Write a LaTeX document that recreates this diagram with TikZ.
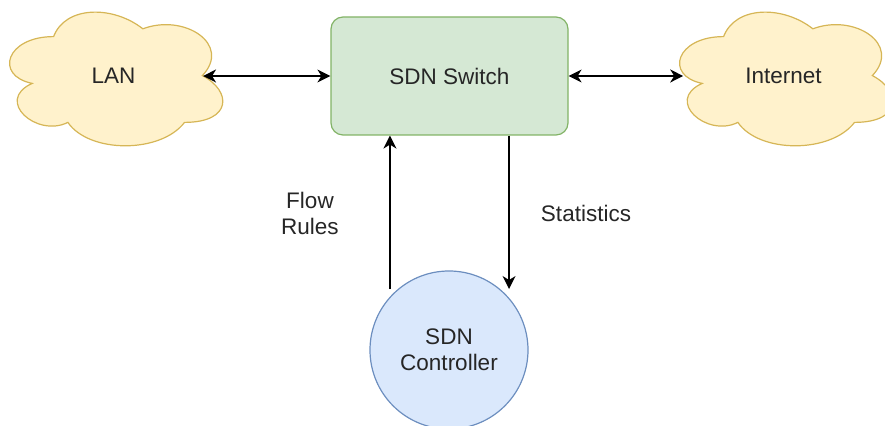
\documentclass[tikz,border=0pt]{standalone}
\usepackage{fontspec}
\setmainfont{Liberation Sans}
\usetikzlibrary{arrows.meta,calc,positioning,backgrounds}

\definecolor{cloudfill}{HTML}{FFF2CC}
\definecolor{cloudline}{HTML}{D6B656}
\definecolor{switchfill}{HTML}{D5E8D4}
\definecolor{switchline}{HTML}{82B366}
\definecolor{ctrlfill}{HTML}{DAE8FC}
\definecolor{ctrlline}{HTML}{6C8EBF}

% cloud outline filling the box of a named node
\newcommand{\cloudbehind}[1]{%
  \filldraw[draw=cloudline,fill=cloudfill,line width=0.6pt,
      shift={(#1.north west)},x=119pt,y=-78pt]
    (.25,.25) .. controls (.05,.25) and (0,.5) .. (.16,.55)
    .. controls (0,.66) and (.18,.9) .. (.31,.8)
    .. controls (.4,1) and (.7,1) .. (.8,.8)
    .. controls (1,.8) and (1,.6) .. (.875,.5)
    .. controls (1,.3) and (.8,.1) .. (.625,.2)
    .. controls (.5,.05) and (.3,.05) .. (.25,.25) -- cycle;}

\begin{document}
\begin{tikzpicture}[x=0.5pt,y=-0.5pt,
            >={Stealth[length=6.5pt,width=6.5pt,inset=2pt]},
            font=\fontsize{11.25}{13}\selectfont,text=black!85,
            cloud node/.style={minimum width=119pt,minimum height=78pt,inner sep=0pt},
            switch node/.style={rectangle,rounded corners=6pt,draw=switchline,fill=switchfill,
                line width=0.6pt,minimum width=118.5pt,minimum height=59pt},
            ctrl node/.style={circle,draw=ctrlline,fill=ctrlfill,line width=0.6pt,
                minimum size=79pt,inner sep=0pt,align=center},
            link/.style={line width=0.7pt}]

        \useasboundingbox (0,0) rectangle (885,426);

        % Define nodes
        \node[cloud node] (lan) at (113.5,76) {LAN};
        \node[cloud node] (inet) at (783.5,76) {Internet};
        \node[switch node] (sw) at (449.5,76) {SDN Switch};
        \node[ctrl node] (ctrl) at (449,350) {SDN\\Controller};
        \node[align=center] (flow) at (310,213) {Flow\\Rules};
        \node (stats) at (586,213) {Statistics};

        % Clouds behind the text
        \begin{pgfonlayer}{background}
            \cloudbehind{lan}
            \cloudbehind{inet}
        \end{pgfonlayer}

        % Draw edges
        \coordinate (lan port) at ($(lan.west)!0.875!(lan.east)$);
        \coordinate (inet port) at ($(inet.west)!0.08!(inet.east)$);
        \coordinate (rules end) at ($(sw.south west)!0.25!(sw.south east)$);
        \coordinate (stats end) at ($(sw.south west)!0.75!(sw.south east)$);
        \draw[link,<->] (lan port) -- (lan port -| sw.west);
        \draw[link,<->] (sw.east |- inet port) -- (inet port);
        \draw[link,->] (rules end |- ctrl.130) -- (rules end);
        \draw[link,->] (stats end) -- (stats end |- ctrl.50);

\end{tikzpicture}
\end{document}
